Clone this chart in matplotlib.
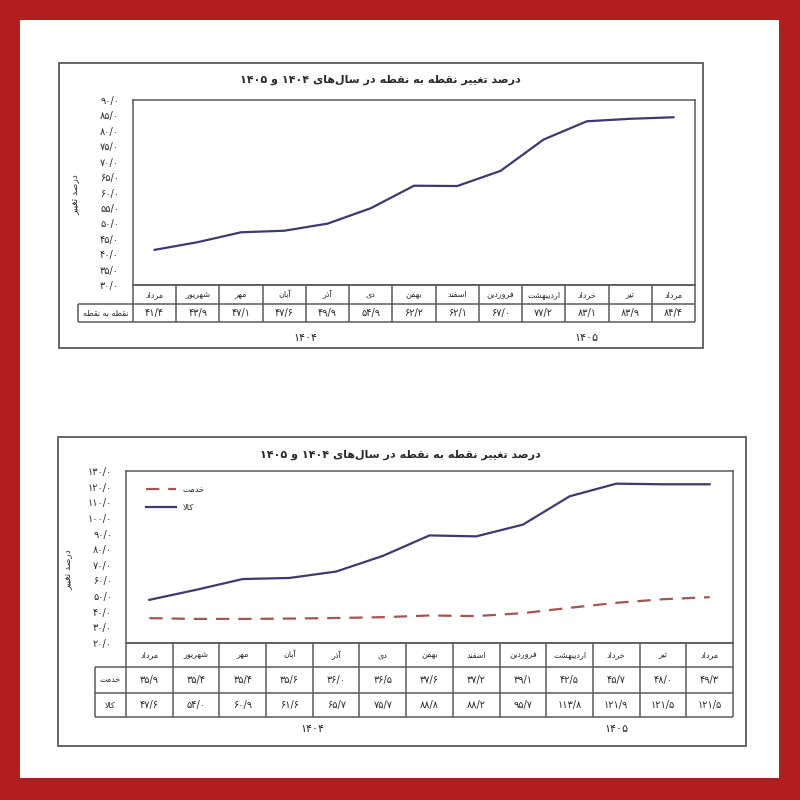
import re
import matplotlib
matplotlib.use('Agg')
import matplotlib.pyplot as plt
from matplotlib.patches import Rectangle

plt.rcParams['font.family'] = ['DejaVu Sans']

# داده‌ها
months = ['مرداد', 'شهریور', 'مهر', 'آبان', 'آذر', 'دی', 'بهمن', 'اسفند',
          'فروردین', 'اردیبهشت', 'خرداد', 'تیر', 'مرداد']
total = [41.4, 43.9, 47.1, 47.6, 49.9, 54.9, 62.2, 62.1, 67.0, 77.2, 83.1, 83.9, 84.4]
services = [35.9, 35.4, 35.4, 35.6, 36.0, 36.5, 37.6, 37.2, 39.1, 42.5, 45.7, 48.0, 49.3]
goods = [47.6, 54.0, 60.9, 61.6, 65.7, 75.7, 88.8, 88.2, 95.7, 113.8, 121.9, 121.5, 121.5]
years = ['۱۴۰۴', '۱۴۰۵']
year_pos = [3.5, 10.0]
title = 'درصد تغییر نقطه به نقطه در سال\u200cهای ۱۴۰۴ و ۱۴۰۵'
ylabel = 'درصد تغییر'
row_total = 'نقطه به نقطه'
row_serv = 'خدمت'
row_goods = 'کالا'
yticks_top = list(range(30, 95, 5))
yticks_bot = list(range(20, 140, 10))

# شکل‌دهی حروف فارسی (matplotlib خودش انجام نمی‌دهد)
FORMS = {
    'ا': (0xFE8D, 0xFE8E, None, None), 'آ': (0xFE81, 0xFE82, None, None),
    'ب': (0xFE8F, 0xFE90, 0xFE91, 0xFE92), 'پ': (0xFB56, 0xFB57, 0xFB58, 0xFB59),
    'ت': (0xFE95, 0xFE96, 0xFE97, 0xFE98), 'خ': (0xFEA5, 0xFEA6, 0xFEA7, 0xFEA8),
    'د': (0xFEA9, 0xFEAA, None, None), 'ذ': (0xFEAB, 0xFEAC, None, None),
    'ر': (0xFEAD, 0xFEAE, None, None), 'س': (0xFEB1, 0xFEB2, 0xFEB3, 0xFEB4),
    'ش': (0xFEB5, 0xFEB6, 0xFEB7, 0xFEB8), 'ص': (0xFEB9, 0xFEBA, 0xFEBB, 0xFEBC),
    'ط': (0xFEC1, 0xFEC2, 0xFEC3, 0xFEC4), 'غ': (0xFECD, 0xFECE, 0xFECF, 0xFED0),
    'ف': (0xFED1, 0xFED2, 0xFED3, 0xFED4), 'ق': (0xFED5, 0xFED6, 0xFED7, 0xFED8),
    'ک': (0xFB8E, 0xFB8F, 0xFB90, 0xFB91), 'ل': (0xFEDD, 0xFEDE, 0xFEDF, 0xFEE0),
    'م': (0xFEE1, 0xFEE2, 0xFEE3, 0xFEE4), 'ن': (0xFEE5, 0xFEE6, 0xFEE7, 0xFEE8),
    'ه': (0xFEE9, 0xFEEA, 0xFEEB, 0xFEEC), 'و': (0xFEED, 0xFEEE, None, None),
    'ی': (0xFBFC, 0xFBFD, 0xFBFE, 0xFBFF),
}


def dual(ch):
    return ch in FORMS and FORMS[ch][2] is not None


def fa(text):
    text = text.replace('ي', 'ی').replace('ك', 'ک')
    out = []
    i, n = 0, len(text)
    while i < n:
        c = text[i]
        if c not in FORMS:
            if c != '\u200c':
                out.append(c)
            i += 1
            continue
        prev = text[i - 1] if i > 0 else ''
        nxt = text[i + 1] if i + 1 < n else ''
        jp = dual(prev)
        if c == 'ل' and nxt in ('ا', 'آ'):
            lig = (0xFEFB, 0xFEFC) if nxt == 'ا' else (0xFEF5, 0xFEF6)
            out.append(chr(lig[1] if jp else lig[0]))
            i += 2
            continue
        jn = dual(c) and nxt in FORMS
        iso, fin, ini, med = FORMS[c]
        out.append(chr(med if (jp and jn) else fin if jp else ini if jn else iso))
        i += 1
    vis = ''.join(reversed(out))
    return re.sub(r'[۰-۹/]+', lambda m: m.group(0)[::-1], vis)


def num(v):
    s = f'{v:.1f}'.replace('.', '/')
    return s.translate(str.maketrans('0123456789', '۰۱۲۳۴۵۶۷۸۹'))


W = H = 800
fig = plt.figure(figsize=(8, 8), dpi=100, facecolor='#b31d1d')
TXT = '#2a2a2a'
LINE = '#5a5a5a'


def add_ax(x0, y0, x1, y1):
    return fig.add_axes([x0 / W, 1 - y1 / H, (x1 - x0) / W, (y1 - y0) / H])


def box(x0, y0, x1, y1, color=LINE, lw=1.3, fc='none', z=5):
    fig.patches.append(Rectangle((x0 / W, 1 - y1 / H), (x1 - x0) / W, (y1 - y0) / H,
                                 transform=fig.transFigure, fc=fc, ec=color, lw=lw,
                                 zorder=z))


def ftext(x, y, s, **kw):
    fig.text(x / W, 1 - y / H, s, ha='center', va='center', color=TXT, **kw)


box(20, 20, 779, 778, color='none', fc='white', z=-10)


def chart(outer, title_xy, plot_px, tab_px, row_bounds, rows, ylim, yticks,
          ylab_xy, year_y):
    box(*outer)
    ftext(*title_xy, fa(title), fontsize=8, fontweight='bold')
    ftext(*ylab_xy, fa(ylabel), fontsize=6.5, rotation=90)

    ax = add_ax(*plot_px)
    ax.set_xlim(-0.5, 12.5)
    ax.set_ylim(*ylim)
    ax.set_xticks([])
    ax.set_yticks(yticks)
    ax.set_yticklabels([num(v) for v in yticks], fontsize=7, color=TXT)
    ax.tick_params(axis='y', length=0, pad=10)
    for sp in ax.spines.values():
        sp.set_color(LINE)
        sp.set_linewidth(1.1)

    # جدول زیر نمودار
    plot_w = plot_px[2] - plot_px[0]
    tab_w = plot_px[2] - tab_px
    xl = 12.5 - 13 * tab_w / plot_w
    tx = add_ax(tab_px, row_bounds[0], plot_px[2], row_bounds[-1])
    tx.set_xlim(xl, 12.5)
    ys = [row_bounds[0] - b for b in row_bounds]
    tx.set_ylim(ys[-1], ys[0])
    tx.axis('off')
    kw = dict(color=LINE, lw=1.1, clip_on=False)
    tx.hlines(ys[0], -0.5, 12.5, **kw)
    for y in ys[1:]:
        tx.hlines(y, xl, 12.5, **kw)
    tx.vlines([k - 0.5 for k in range(14)], ys[-1], ys[0], **kw)
    tx.vlines(xl, ys[-1], ys[1], **kw)
    for k, m in enumerate(months):
        tx.text(k, (ys[0] + ys[1]) / 2, fa(m), ha='center', va='center',
                fontsize=5.8, color=TXT)
    for r, (lab, vals) in enumerate(rows):
        yc = (ys[r + 1] + ys[r + 2]) / 2
        tx.text((xl - 0.5) / 2, yc, fa(lab), ha='center', va='center',
                fontsize=5.8, color=TXT)
        for k, v in enumerate(vals):
            tx.text(k, yc, num(v), ha='center', va='center', fontsize=7, color=TXT)
    for yr, p in zip(years, year_pos):
        x = plot_px[0] + (p + 0.5) / 13 * plot_w
        ftext(x, year_y, yr, fontsize=8)
    return ax


# نمودار بالا
ax1 = chart((59, 63, 703, 348), (380, 80), (133, 100, 695, 285), 78,
            [285, 304, 322], [(row_total, total)], (30, 90), yticks_top,
            (76, 195), 338)
ax1.plot(range(len(total)), total, color='#3d3b6e', lw=1.6)

# نمودار پایین
ax2 = chart((58, 437, 746, 746), (400, 455), (126, 471, 733, 643), 95,
            [643, 667, 693, 717], [(row_serv, services), (row_goods, goods)],
            (20, 130), yticks_bot, (69, 570), 729)
ax2.plot(range(len(services)), services, color='#a4554f', lw=1.6,
         dashes=(6, 4), label=fa(row_serv))
ax2.plot(range(len(goods)), goods, color='#3d3b6e', lw=1.6, label=fa(row_goods))
ax2.legend(loc='upper left', bbox_to_anchor=(0.02, 0.965), frameon=False,
           fontsize=6, handlelength=3.6, labelspacing=1.1, labelcolor=TXT)

fig.savefig('out.png', dpi=100)
